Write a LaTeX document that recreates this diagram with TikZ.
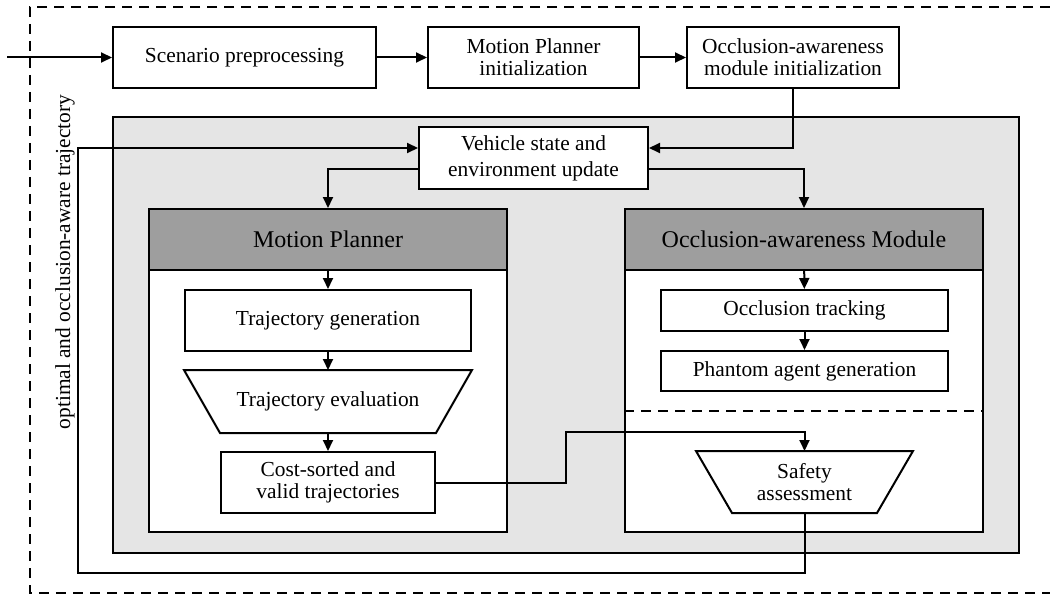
\documentclass[tikz,border=0pt]{standalone}
\usepackage{fontspec}
\setmainfont{Liberation Serif}
\usetikzlibrary{arrows.meta}

\begin{document}
\begin{tikzpicture}[x=0.5pt,y=-0.5pt,line width=1pt,
    font=\fontsize{10.7}{11}\selectfont,
    box/.style={draw, fill=white, align=center, inner sep=0pt, minimum height=30.5pt},
    funnel/.style={align=center, inner sep=0pt, minimum height=30.5pt},
    module/.style={draw, fill=white, inner sep=0pt, minimum width=179pt, minimum height=161.5pt},
    head/.style={draw, fill=black!38, inner sep=0pt, minimum width=179pt, minimum height=30.5pt,
        anchor=north, font=\fontsize{12}{14}\selectfont},
    arr/.style={-{Triangle[length=5.5pt,width=5pt]}}]
    \def\W{1050}
    \def\H{599}
    \def\mpx{328}
    \def\ocx{804}
    \def\inset{18pt}

    \useasboundingbox (0,0) rectangle (\W,\H);

    % outer loop (dashed, open to the right)
    \draw[line width=0.9pt, dash pattern=on 5pt off 3.5pt] (\W,7) -- (30,7) -- (30,593) -- (\W,593);

    % initialization chain
    \node[box, minimum width=131.5pt] (scen) at (244.5,57.5) {Scenario preprocessing};
    \node[box, minimum width=105.5pt] (mpinit) at (533.5,57.5) {Motion Planner\\initialization};
    \node[box, minimum width=106pt] (ocinit) at (793,57.5) {Occlusion-awareness\\module initialization};
    \coordinate (in) at (7,57.5);

    % main loop
    \draw[fill=black!10] (113,117) rectangle (1019,553);
    \node[box, minimum width=114.5pt, minimum height=31pt] (vehicle) at (533.5,158)
        {Vehicle state and\\[2pt]environment update};

    % motion planner
    \node[module] (mpbox) at (\mpx,370.5) {};
    \node[head] (mphead) at (mpbox.north) {Motion Planner};
    \node[box, minimum width=143pt] (trajgen) at (\mpx,320.5) {Trajectory generation};
    \node[funnel, minimum width=143pt] (trajeval) at (\mpx,401.5) {};
    \draw[fill=white] (trajeval.north west) -- (trajeval.north east)
        -- ([xshift=-\inset]trajeval.south east) -- ([xshift=\inset]trajeval.south west) -- cycle;
    \node at (trajeval) {Trajectory evaluation};
    \node[box, minimum width=107pt] (cost) at (\mpx,482.5) {Cost-sorted and\\valid trajectories};

    % occlusion-awareness module
    \node[module] (ocbox) at (\ocx,370.5) {};
    \node[head] (ochead) at (ocbox.north) {Occlusion-awareness Module};
    \node[box, minimum width=143.5pt, minimum height=20.5pt] (octrack) at (804.5,310.5) {Occlusion tracking};
    \node[box, minimum width=143.5pt, minimum height=20pt] (phantom) at (804.5,371) {Phantom agent generation};
    \draw[dash pattern=on 5pt off 3.5pt] (ocbox.west |- 0,411) -- (ocbox.east |- 0,411);
    \node[funnel, minimum width=107.5pt, minimum height=30pt] (safety) at (804.5,482) {};
    \draw[fill=white] (safety.north west) -- (safety.north east)
        -- ([xshift=-\inset]safety.south east) -- ([xshift=\inset]safety.south west) -- cycle;
    \node[align=center] at (safety) {Safety\\assessment};

    \node[rotate=90] (looplabel) at (65,262) {optimal and occlusion-aware trajectory};

    % connectors
    \draw[arr] (in) -- (scen);
    \draw[arr] (scen) -- (mpinit);
    \draw[arr] (mpinit) -- (ocinit);
    \draw[arr] (ocinit.south) |- ([yshift=5pt]vehicle.east);
    \draw[arr] ([yshift=-5.5pt]vehicle.west) -| (mphead.north);
    \draw[arr] ([yshift=-5.5pt]vehicle.east) -| (ochead.north);
    \draw[arr] (mphead) -- (trajgen);
    \draw[arr] (trajgen) -- (trajeval);
    \draw[arr] (trajeval) -- (cost);
    \draw[arr] (ochead) -- (octrack);
    \draw[arr] (octrack) -- (phantom);
    \coordinate (jog) at (566,432);
    \draw[arr] (cost.east) -| (jog) -| (safety.north);
    \coordinate (back) at (78,573);
    \draw[arr] (safety.south) |- (back) |- ([yshift=5pt]vehicle.west);
\end{tikzpicture}
\end{document}
